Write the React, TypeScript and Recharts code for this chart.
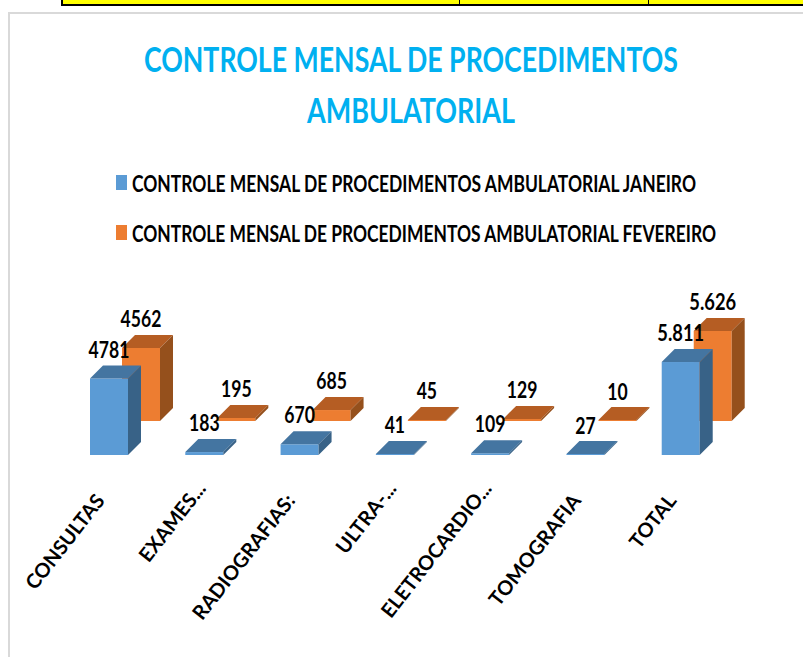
import React from "react";
import { BarChart, Bar, XAxis, YAxis, LabelList, Legend } from "recharts";

const categories = ["CONSULTAS", "EXAMES...", "RADIOGRAFIAS:", "ULTRA-...", "ELETROCARDIO...", "TOMOGRAFIA", "TOTAL"];
const janeiro = [4781, 183, 670, 41, 109, 27, 5811];
const fevereiro = [4562, 195, 685, 45, 129, 10, 5626];
const janeiroLabels = ["4781", "183", "670", "41", "109", "27", "5.811"];
const fevereiroLabels = ["4562", "195", "685", "45", "129", "10", "5.626"];
const titleLines = ["CONTROLE MENSAL DE PROCEDIMENTOS", "AMBULATORIAL"];
const seriesJaneiro = "CONTROLE MENSAL DE PROCEDIMENTOS AMBULATORIAL JANEIRO";
const seriesFevereiro = "CONTROLE MENSAL DE PROCEDIMENTOS AMBULATORIAL FEVEREIRO";

const data = categories.map((name, i) => ({
  name,
  jan: janeiro[i],
  fev: fevereiro[i],
  janLabel: janeiroLabels[i],
  fevLabel: fevereiroLabels[i],
}));

const FONT = "Lato, 'Liberation Sans', sans-serif";
const DEPTH = 13;

function shade3D(front: string, top: string, side: string) {
  return (p: any) => {
    const { x, y, width, height } = p;
    const h = Math.max(height, 1);
    const yy = y + height - h;
    return (
      <g>
        <rect x={x} y={yy} width={width} height={h} fill={front} />
        <polygon points={`${x},${yy} ${x + DEPTH},${yy - DEPTH} ${x + width + DEPTH},${yy - DEPTH} ${x + width},${yy}`} fill={top} />
        <polygon points={`${x + width},${yy} ${x + width + DEPTH},${yy - DEPTH} ${x + width + DEPTH},${yy + h - DEPTH} ${x + width},${yy + h}`} fill={side} />
      </g>
    );
  };
}

const CategoryTick = (p: any) => {
  const cut = String(p.payload.value).endsWith("...");
  const ax = p.x - 3 + (cut ? 6 : 0);
  const ay = p.y + 8 + (cut ? -12 : 0);
  return (
    <text
      x={ax}
      y={ay}
      textAnchor="end"
      transform={`rotate(-52 ${ax} ${ay})`}
      fontFamily={FONT}
      fontSize={20}
      fontWeight={700}
      fill="#000"
    >
      {p.payload.value}
    </text>
  );
};

const ValueLabel = (p: any) => {
  const s = String(p.value);
  const dots = s.split(".").length - 1;
  const len = (s.length - dots) * 10.2 + dots * 6;
  return (
    <text
      x={p.x + p.width / 2}
      y={p.y - 21}
      textAnchor="middle"
      textLength={len}
      lengthAdjust="spacingAndGlyphs"
      fontFamily={FONT}
      fontSize={22}
      fontWeight={700}
      fill="#000"
    >
      {s}
    </text>
  );
};

const LegendContent = () => (
  <div style={{ fontFamily: FONT, fontWeight: 700, fontSize: 22, color: "#000" }}>
    {[
      { color: "#5b9bd5", label: seriesJaneiro, w: 564 },
      { color: "#ed7d31", label: seriesFevereiro, w: 584 },
    ].map((r, i) => (
      <svg key={i} width={620} height={30} style={{ position: "absolute", left: 0, top: i * 50, overflow: "visible" }}>
        <rect x={0} y={8} width={11} height={15} fill={r.color} />
        <text x={16} y={24.5} textLength={r.w} lengthAdjust="spacingAndGlyphs" fill="#000">{r.label}</text>
      </svg>
    ))}
  </div>
);

export default function App() {
  return (
    <div style={{ position: "absolute", left: 0, top: 0, width: 803, height: 657, background: "#fff", overflow: "hidden" }}>
      <div style={{ position: "absolute", left: 61, top: -3, width: 742, height: 7, background: "#ffff00", borderBottom: "2px solid #000", borderLeft: "2px solid #000" }} />
      <div style={{ position: "absolute", left: 459, top: 0, width: 1, height: 6, background: "#000" }} />
      <div style={{ position: "absolute", left: 648, top: 0, width: 1, height: 6, background: "#000" }} />
      <div style={{ position: "absolute", left: 8, top: 12, width: 795, height: 645, borderTop: "2px solid #d9d9d9", borderLeft: "2px solid #d9d9d9" }} />
      <svg width={803} height={140} style={{ position: "absolute", left: 0, top: 0 }}>
        <text x={411} y={72} textAnchor="middle" textLength={534} lengthAdjust="spacingAndGlyphs" fontFamily={FONT} fontSize={35} fontWeight={700} fill="#00b0f0">{titleLines[0]}</text>
        <text x={411} y={123} textAnchor="middle" textLength={208} lengthAdjust="spacingAndGlyphs" fontFamily={FONT} fontSize={35} fontWeight={700} fill="#00b0f0">{titleLines[1]}</text>
      </svg>
      <BarChart
        width={803}
        height={657}
        data={data}
        margin={{ top: 285, right: 42, bottom: 0, left: 61 }}
        style={{ position: "absolute", left: 0, top: 0 }}
      >
        <XAxis xAxisId="front" dataKey="name" padding={{ left: 0, right: 33 }} axisLine={false} tickLine={false} interval={0} height={202} tick={<CategoryTick />} />
        <XAxis xAxisId="back" dataKey="name" padding={{ left: 32, right: 1 }} hide />
        <YAxis yAxisId="front" domain={[0, 10625]} hide />
        <YAxis yAxisId="back" domain={[-2125, 8500]} hide />
        <Legend
          verticalAlign="middle"
          align="center"
          layout="vertical"
          wrapperStyle={{ position: "absolute", left: 116, top: 167, width: 620, height: 90 }}
          content={<LegendContent />}
        />
        <Bar xAxisId="back" yAxisId="back" dataKey="fev" name={seriesFevereiro} barSize={38} isAnimationActive={false} shape={shade3D("#ed7d31", "#b55d23", "#95501c")}>
          <LabelList dataKey="fevLabel" content={<ValueLabel />} />
        </Bar>
        <Bar xAxisId="front" yAxisId="front" dataKey="jan" name={seriesJaneiro} barSize={38} isAnimationActive={false} shape={shade3D("#5b9bd5", "#4475a1", "#386287")}>
          <LabelList dataKey="janLabel" content={<ValueLabel />} />
        </Bar>
      </BarChart>
    </div>
  );
}
